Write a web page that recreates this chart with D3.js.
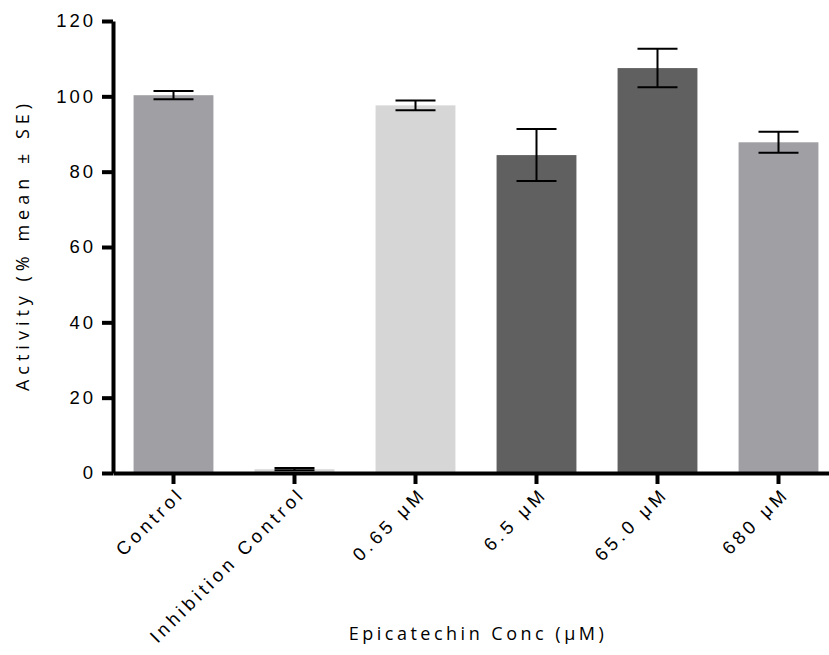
<!DOCTYPE html>
<head>
	<meta charset="utf-8">
	<style>
		body { margin: 0; background: white; }
		svg { font-family: "Open Sans", sans-serif; }
		svg .tick text { font-size: 18.5px; letter-spacing: 3px; fill: black; }
		svg .xaxis .tick text { letter-spacing: 4px; }
		svg .title { font-size: 18px; letter-spacing: 3.5px; }
	</style>
</head>
<body>
	<svg width="829" height="655"></svg>
	<script src="https://d3js.org/d3.v7.min.js"></script>
	<script>
		var categories = ["Control", "Inhibition Control", "0.65 \u03bcM", "6.5 \u03bcM", "65.0 \u03bcM", "680 \u03bcM"];
		var means = [100.3, 1.0, 97.6, 84.4, 107.5, 87.8];
		var errors = [1.1, 0.3, 1.3, 6.9, 5.1, 2.8];
		var colors = ["#a09fa4", "#d6d6d6", "#d6d6d6", "#606060", "#606060", "#a09fa4"];
		var yTicks = [0, 20, 40, 60, 80, 100, 120];

		var svg = d3.select("svg"),
			g = svg.append("g");

		var x = d3.scaleBand()
			.domain(categories)
			.range([113, 839])
			.paddingInner(0.34)
			.paddingOuter(0.17);

		var y = d3.scaleLinear()
			.domain([0, 120])
			.range([473, 21]);

		// Bars
		g.selectAll("rect.bar")
			.data(means)
			.enter().append("rect")
			.attr("class", "bar")
			.attr("x", function (d, i) { return x(categories[i]); })
			.attr("width", x.bandwidth())
			.attr("y", function (d) { return y(d); })
			.attr("height", function (d) { return y(0) - y(d); })
			.attr("fill", function (d, i) { return colors[i]; });

		// Error bars
		var capHalf = 20;
		g.selectAll("path.error")
			.data(means)
			.enter().append("path")
			.attr("class", "error")
			.attr("fill", "none")
			.attr("stroke", "black")
			.attr("stroke-width", 2)
			.attr("d", function (d, i) {
				var cx = x(categories[i]) + x.bandwidth() / 2,
					yt = y(d + errors[i]),
					yb = y(d - errors[i]);
				return "M" + (cx - capHalf) + "," + yt + "H" + (cx + capHalf)
					+ "M" + cx + "," + yt + "V" + yb
					+ "M" + (cx - capHalf) + "," + yb + "H" + (cx + capHalf);
			});

		// Axes
		var yAxis = svg.append("g")
			.attr("transform", "translate(113,0)")
			.call(d3.axisLeft(y).tickValues(yTicks).tickSize(11).tickSizeOuter(0).tickPadding(6));

		var xAxis = svg.append("g")
			.attr("class", "xaxis")
			.attr("transform", "translate(0,473)")
			.call(d3.axisBottom(x).tickSize(11).tickSizeOuter(0));

		svg.selectAll(".domain, .tick line")
			.attr("stroke", "black")
			.attr("stroke-width", 4);

		xAxis.selectAll(".tick text")
			.attr("text-anchor", "end")
			.attr("dy", 0)
			.attr("y", 0)
			.attr("transform", "translate(12,22) rotate(-45)");

		// Titles
		svg.append("text")
			.attr("class", "title")
			.attr("text-anchor", "middle")
			.style("letter-spacing", "5px")
			.attr("transform", "translate(29,245) rotate(-90)")
			.text("Activity (% mean \u00b1 SE)");

		svg.append("text")
			.attr("class", "title")
			.attr("text-anchor", "middle")
			.attr("x", 478)
			.attr("y", 640)
			.text("Epicatechin Conc (\u03bcM)");
	</script>
</body>
